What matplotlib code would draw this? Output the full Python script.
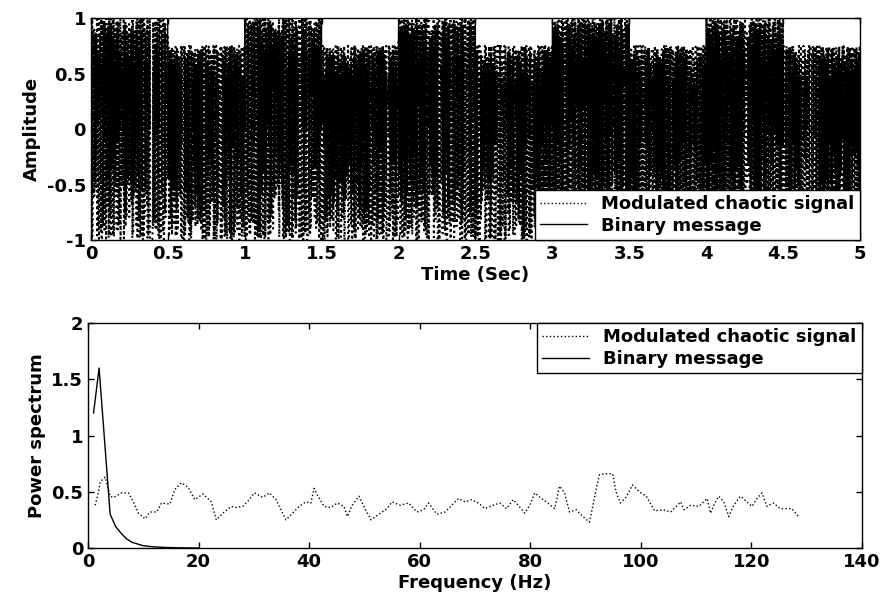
import numpy as np
import matplotlib
matplotlib.use("Agg")
import matplotlib.pyplot as plt

bits = [1, 0, 1, 0, 1, 0, 1, 0, 1, 0]
bit_time = 0.5
fs = 1000                # samples per second of the time trace
top_level = [0.75, 1.0]  # upper reach of the modulated signal for bit 0 / bit 1

# power spectrum of the binary message
f_msg = [1, 2, 3, 4, 5, 6, 7, 8, 9, 10, 12, 14, 16, 18, 20]
p_msg = [1.2, 1.6, 0.95, 0.3, 0.19, 0.13, 0.08, 0.05, 0.035, 0.02, 0.01, 0.005, 0.002, 0.001, 0.0]

# power spectrum of the modulated chaotic signal
f_chaos = [1.3, 1.9, 2.2, 3.1, 4.0, 4.6, 6.1, 7.3, 8.2, 9.1, 10.3, 11.2, 12.4, 13.3, 14.8,
           15.7, 16.9, 18.1, 19.3, 20.8, 22.3, 23.2, 24.4, 25.9, 26.8, 28.0, 29.2, 30.1,
           31.6, 32.8, 34.0, 34.9, 35.8, 37.0, 38.2, 39.4, 40.3, 40.9, 41.5, 42.7, 43.9,
           45.1, 46.3, 46.9, 47.8, 49.0, 50.2, 51.2, 52.9, 54.1, 55.0, 56.5, 58.0, 59.5,
           60.7, 61.6, 63.1, 64.6, 65.8, 67.0, 68.2, 69.4, 70.6, 71.8, 73.3, 74.5, 75.7,
           76.9, 77.8, 79.0, 79.9, 80.8, 82.0, 83.2, 84.4, 85.3, 86.2, 87.1, 88.3, 89.5,
           90.7, 91.3, 91.9, 92.5, 93.4, 94.9, 95.5, 96.3, 97.3, 98.5, 99.7, 101.0, 102.5,
           104.0, 105.4, 107.2, 107.8, 109.0, 110.5, 112.0, 112.6, 113.5, 114.1, 115.0,
           115.9, 116.8, 118.0, 119.2, 120.1, 121.0, 121.9, 122.8, 124.0, 125.2, 127.3, 128.5]
p_chaos = [0.38, 0.50, 0.59, 0.63, 0.46, 0.45, 0.49, 0.49, 0.41, 0.31, 0.26, 0.32, 0.32, 0.40, 0.39,
           0.52, 0.58, 0.54, 0.43, 0.48, 0.41, 0.25, 0.31, 0.37, 0.36, 0.37, 0.43, 0.49,
           0.45, 0.49, 0.43, 0.34, 0.25, 0.31, 0.37, 0.41, 0.40, 0.53, 0.47, 0.37, 0.36,
           0.40, 0.37, 0.28, 0.38, 0.46, 0.34, 0.25, 0.31, 0.35, 0.41, 0.38, 0.40, 0.32,
           0.34, 0.40, 0.30, 0.32, 0.38, 0.44, 0.41, 0.43, 0.40, 0.35, 0.38, 0.40, 0.35,
           0.43, 0.38, 0.31, 0.38, 0.49, 0.44, 0.40, 0.35, 0.55, 0.49, 0.32, 0.34, 0.28,
           0.23, 0.37, 0.52, 0.65, 0.66, 0.66, 0.50, 0.40, 0.45, 0.56, 0.50, 0.46, 0.33,
           0.34, 0.32, 0.41, 0.34, 0.38, 0.37, 0.44, 0.31, 0.41, 0.46, 0.41,
           0.28, 0.38, 0.46, 0.41, 0.37, 0.44, 0.49, 0.37, 0.40, 0.35, 0.35, 0.28]

# chaotic carrier from the logistic map (the signal itself is chaotic, not readable point by point)
n = int(len(bits) * bit_time * fs)
x = np.empty(n)
x[0] = 0.3141
for i in range(1, n):
    x[i] = 4.0 * x[i - 1] * (1.0 - x[i - 1])
carrier = 2 * x - 1
t = np.arange(n) / fs
msg = np.repeat(bits, int(bit_time * fs)).astype(float)
level = np.where(msg > 0, top_level[1], top_level[0])
modulated = -1 + (carrier + 1) * (level + 1) / 2

plt.rcParams['font.family'] = ['DejaVu Sans']
plt.rcParams['font.weight'] = 'bold'
plt.rcParams['axes.labelweight'] = 'bold'
plt.rcParams['xtick.direction'] = 'in'
plt.rcParams['ytick.direction'] = 'in'
plt.rcParams['xtick.top'] = True
plt.rcParams['ytick.right'] = True
plt.rcParams['font.size'] = 13

fig = plt.figure(figsize=(8.83, 6.06), dpi=100)
ax1 = fig.add_axes([0.103, 0.604, 0.871, 0.366])
ax2 = fig.add_axes([0.0997, 0.0957, 0.8765, 0.3713])

ax1.plot(t, msg, 'k-', lw=1.0, label='Binary message')
ax1.plot(t, modulated, 'k:', lw=1.5, label='Modulated chaotic signal')
ax1.set_xlim(0, 5)
ax1.set_ylim(-1, 1)
ax1.set_xticks(np.arange(0, 5.01, 0.5))
ax1.set_xticklabels(['0', '0.5', '1', '1.5', '2', '2.5', '3', '3.5', '4', '4.5', '5'])
ax1.set_yticks([-1, -0.5, 0, 0.5, 1])
ax1.set_yticklabels(['-1', '-0.5', '0', '0.5', '1'])
ax1.set_xlabel('Time (Sec)', labelpad=2)
ax1.set_ylabel('Amplitude', labelpad=4)
h, l = ax1.get_legend_handles_labels()
leg1 = ax1.legend(h[::-1], l[::-1], loc='lower right', borderaxespad=0, fancybox=False,
                  framealpha=1, edgecolor='k', handlelength=2.6, borderpad=0.3,
                  labelspacing=0.2)

ax2.plot(f_chaos, p_chaos, 'k:', lw=1.0, label='Modulated chaotic signal')
ax2.plot(f_msg, p_msg, 'k-', lw=1.0, label='Binary message')
ax2.set_xlim(0, 140)
ax2.set_ylim(0, 2)
ax2.set_xticks(np.arange(0, 141, 20))
ax2.set_yticks([0, 0.5, 1, 1.5, 2])
ax2.set_yticklabels(['0', '0.5', '1', '1.5', '2'])
ax2.set_xlabel('Frequency (Hz)', labelpad=2)
ax2.set_ylabel('Power spectrum', labelpad=4)
leg2 = ax2.legend(loc='upper right', borderaxespad=0, fancybox=False, framealpha=1,
                  edgecolor='k', handlelength=2.6, borderpad=0.3, labelspacing=0.2)

for ax in (ax1, ax2):
    ax.tick_params(length=4, width=1)
    for s in ax.spines.values():
        s.set_linewidth(1.0)
for leg in (leg1, leg2):
    leg.get_frame().set_linewidth(1.0)
    for line in leg.get_lines():
        line.set_linewidth(1.0)

fig.savefig('out.png', dpi=100)
